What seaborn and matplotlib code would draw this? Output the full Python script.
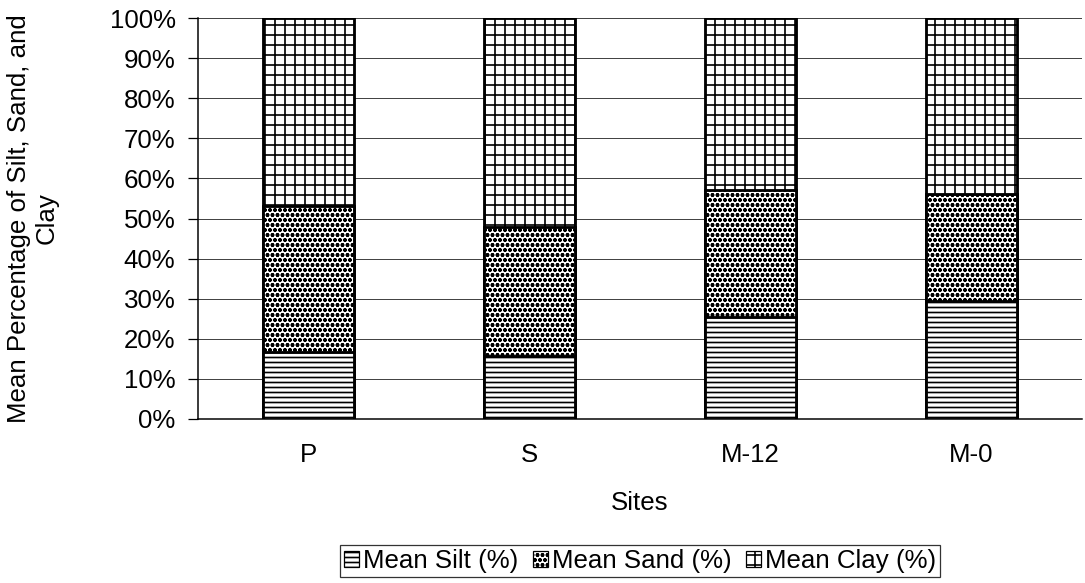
import matplotlib
matplotlib.use("Agg")
import matplotlib.pyplot as plt
from matplotlib.patches import Patch
import seaborn as sns
import pandas as pd
import numpy as np

sites = ["P", "S", "M-12", "M-0"]
silt = [16.7, 15.7, 25.4, 29.5]
sand = [36.3, 32.3, 31.6, 26.5]
clay = [47.0, 52.0, 43.0, 44.0]
y_ticks = list(range(0, 101, 10))

sns.set_theme(style="white")
plt.rcParams["font.family"] = ["Liberation Sans", "DejaVu Sans"]
plt.rcParams["hatch.linewidth"] = 2.0
plt.rcParams["hatch.color"] = "black"
for key in ["text.color", "axes.labelcolor", "xtick.color", "ytick.color"]:
    plt.rcParams[key] = "black"

df = pd.DataFrame({"site": sites, "silt": silt, "sand": sand, "clay": clay})
df["silt_top"] = df["silt"]
df["sand_top"] = df["silt"] + df["sand"]
df["clay_top"] = df["sand_top"] + df["clay"]

DPI = 60
fig = plt.figure(figsize=(1085 / DPI, 583 / DPI), dpi=DPI)
ax = fig.add_axes([198 / 1085, 1 - 419 / 583, (1082 - 198) / 1085, (419 - 18) / 583])

fs = 31
bar_kw = dict(width=0.41, color="white", edgecolor="black", linewidth=3.4,
              saturation=1, ax=ax, zorder=3)
# stacked bars drawn back to front: cumulative totals
sns.barplot(data=df, x="site", y="clay_top", hatch="+", **bar_kw)
sns.barplot(data=df, x="site", y="sand_top", hatch="oo", **bar_kw)
sns.barplot(data=df, x="site", y="silt_top", hatch="--", **bar_kw)

ax.set_xlim(-0.5, len(sites) - 0.5)
ax.set_ylim(0, 100)
ax.set_yticks(y_ticks)
ax.set_yticklabels([f"{t}%" for t in y_ticks], fontsize=fs)
ax.set_xticks(range(len(sites)))
ax.set_xticklabels(sites, fontsize=fs)
ax.set_xticks(np.arange(-0.5, len(sites) - 0.4, 1.0), minor=True)
ax.tick_params(axis="x", which="major", length=0, pad=29)
ax.tick_params(axis="x", which="minor", length=10, width=1.5, color="black", direction="out")
ax.tick_params(axis="y", length=12, width=1.5, color="black", direction="out", pad=15, left=True)

ax.yaxis.grid(True, color="#444444", linewidth=1.2, zorder=0)
ax.set_axisbelow(True)
for s in ["top", "right"]:
    ax.spines[s].set_visible(False)
for s in ["left", "bottom"]:
    ax.spines[s].set_color("black")
    ax.spines[s].set_linewidth(1.8)

ax.set_xlabel("Sites", fontsize=fs, labelpad=28)
ax.set_ylabel("Mean Percentage of Silt, Sand, and\nClay", fontsize=fs)
ax.yaxis.set_label_coords(-0.158, 0.5)

handles = [
    Patch(facecolor="white", edgecolor="black", hatch="--", linewidth=1.5, label="Mean Silt (%)"),
    Patch(facecolor="white", edgecolor="black", hatch="oo", linewidth=1.5, label="Mean Sand (%)"),
    Patch(facecolor="white", edgecolor="black", hatch="+", linewidth=1.5, label="Mean Clay (%)"),
]
leg = fig.legend(handles=handles, loc="upper center", bbox_to_anchor=(640 / 1085, 1 - 545 / 583),
                 ncol=3, fontsize=fs, frameon=True, fancybox=False,
                 handlelength=0.6, handleheight=0.6, handletextpad=0.15,
                 columnspacing=0.55, borderpad=0.15, borderaxespad=0)
leg.get_frame().set_edgecolor("black")
leg.get_frame().set_linewidth(1.5)

fig.savefig("out.png", dpi=DPI)
